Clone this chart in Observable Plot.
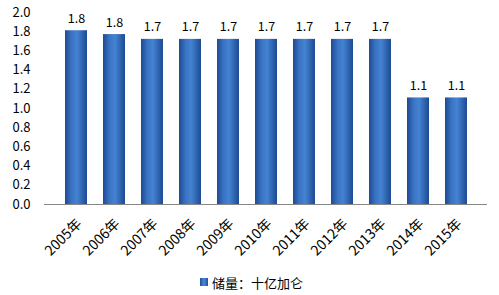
<!DOCTYPE html>
<html><head><meta charset="utf-8">
<script src="https://cdn.jsdelivr.net/npm/d3@7"></script>
<script src="https://cdn.jsdelivr.net/npm/@observablehq/plot@0.6"></script>
<style>
body{margin:0;background:#fff;font-family:"Noto Sans CJK SC","Liberation Sans",sans-serif;}
#legend{height:34px;padding-top:4px;display:flex;align-items:center;justify-content:center;font-size:13px;color:#000;padding-left:4px}
#legend span.sw{display:inline-block;width:8px;height:8px;background:linear-gradient(90deg,#1f4f9a,#4a8ad8,#1f4f9a);margin-right:4px}
</style></head>
<body>
<div id="chart"></div>
<div id="legend"><span class="sw"></span><span>储量：十亿加仑</span></div>
<script>
const years = ["2005年","2006年","2007年","2008年","2009年","2010年","2011年","2012年","2013年","2014年","2015年"];
const reserves = [1.81,1.77,1.72,1.72,1.72,1.72,1.72,1.72,1.72,1.11,1.11];
const yTicks = [0,0.2,0.4,0.6,0.8,1.0,1.2,1.4,1.6,1.8,2.0];
const data = years.map((y,i)=>({year:y,value:reserves[i]}));

const chart = Plot.plot({
  width:499, height:261,
  marginLeft:44, marginRight:12, marginTop:12, marginBottom:57,
  style:{fontFamily:'"Noto Sans CJK SC","Liberation Sans",sans-serif',color:"#000",background:"#fff"},
  x:{domain:years, padding:0.43, label:null},
  y:{domain:[0,2], label:null},
  marks:[
    Plot.axisX({tickSize:0, tickRotate:-45, tickPadding:17, dx:3, fontSize:14, label:null, fill:"#000"}),
    Plot.axisY({ticks:yTicks, tickFormat:d3.format(".1f"), tickSize:0, tickPadding:14, fontSize:13, label:null, fill:"#000"}),
    Plot.barY(data,{x:"year",y:"value",fill:"url(#barGrad)"}),
    Plot.text(data,{x:"year",y:"value",text:d=>d3.format(".1f")(d.value),dy:-12,fontSize:12.5,fill:"#000"}),
    Plot.ruleX([0],{frameAnchor:"left",stroke:"#888"}),
    Plot.ruleY([0],{stroke:"#888"})
  ]
});
const svg = d3.select(chart);
const defs = svg.insert("defs",":first-child");
const g = defs.append("linearGradient").attr("id","barGrad").attr("x1","0").attr("x2","1").attr("y1","0").attr("y2","0");
g.append("stop").attr("offset","0%").attr("stop-color","#1d4a92");
g.append("stop").attr("offset","30%").attr("stop-color","#3a74c4");
g.append("stop").attr("offset","55%").attr("stop-color","#4483d2");
g.append("stop").attr("offset","100%").attr("stop-color","#1d4a92");
document.getElementById("chart").appendChild(chart);
</script>
</body></html>
